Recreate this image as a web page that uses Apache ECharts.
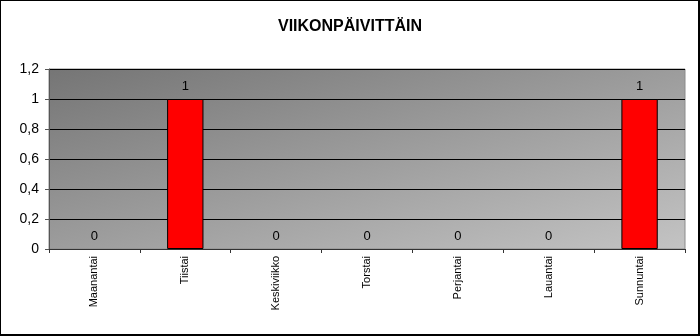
<!DOCTYPE html>
<html><head><meta charset="utf-8">
<script src="https://cdn.jsdelivr.net/npm/echarts@6/dist/echarts.min.js"></script>
<style>html,body{margin:0;padding:0;background:#fff}#c{width:700px;height:336px;box-sizing:border-box}#f{position:absolute;left:0;top:0;width:700px;height:336px;box-sizing:border-box;border:1px solid #000;border-right-width:2px;border-bottom-width:2px;pointer-events:none}</style>
</head><body>
<div id="c"></div><div id="f"></div>
<script>
var titleText = 'VIIKONPÄIVITTÄIN';
var categories = ['Maanantai','Tiistai','Keskiviikko','Torstai','Perjantai','Lauantai','Sunnuntai'];
var values = [0,1,0,0,0,0,1];
var yTicks = [0,0.2,0.4,0.6,0.8,1,1.2];

var chart = echarts.init(document.getElementById('c'), null, {renderer:'canvas'});
var font = 'Liberation Sans, Arial, sans-serif';
var barData = values.map(function(v){ return v === 0 ? {value:v, itemStyle:{borderWidth:0}} : {value:v}; });
chart.setOption({
  animation:false,
  title:{text:titleText,left:'center',top:14,textStyle:{fontFamily:font,fontSize:16,fontWeight:'bold',color:'#000'}},
  grid:{left:49,right:15,top:69,bottom:87,show:true,borderColor:'#8a8a8a',borderWidth:1,
    backgroundColor:new echarts.graphic.LinearGradient(0,0,0.148,1.852,[{offset:0,color:'#757575'},{offset:1,color:'#c4c4c4'}])},
  xAxis:{type:'category',data:categories,boundaryGap:true,
    axisLine:{show:true,lineStyle:{color:'#333',width:1}},
    axisTick:{show:true,alignWithLabel:false,length:4,lineStyle:{color:'#333'}},
    axisLabel:{rotate:90,interval:0,margin:7,fontFamily:font,fontSize:11,color:'#000'}},
  yAxis:{type:'value',min:yTicks[0],max:yTicks[yTicks.length-1],interval:0.2,
    axisLine:{show:true,lineStyle:{color:'#555'}},
    axisTick:{show:true,length:4,lineStyle:{color:'#555'}},
    splitLine:{show:true,lineStyle:{color:'#000',width:1}},
    axisLabel:{margin:10,fontFamily:font,fontSize:14,color:'#000',formatter:function(v){return String(Math.round(v*10)/10).replace('.',',');}}},
  series:[{type:'bar',data:barData,barWidth:'40%',
    itemStyle:{color:'#ff0000',borderColor:'#000',borderWidth:1},
    label:{show:true,position:'top',distance:6,fontFamily:font,fontSize:13,color:'#000'}}]
});
</script>
</body></html>
